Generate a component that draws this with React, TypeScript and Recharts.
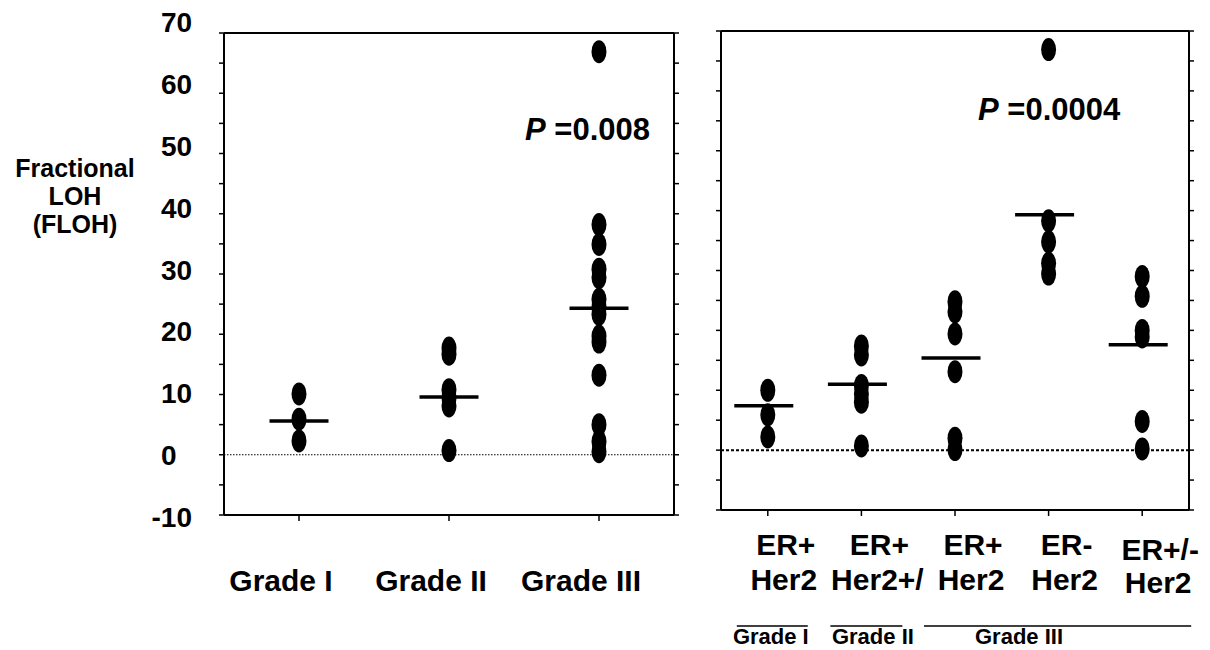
import React from 'react';
import { ScatterChart, Scatter, XAxis, YAxis, ReferenceLine } from 'recharts';

const FONT = '"Liberation Sans", Arial, Helvetica, sans-serif';

// ---------- Left panel: tumour grade ----------
const gradeCategories = ['Grade I', 'Grade II', 'Grade III'];
const gradeIValues = [10.1, 5.9, 2.3];
const gradeIIValues = [17.7, 16.7, 10.8, 9.4, 8.1, 0.7];
const gradeIIIValues = [66.9, 38.2, 34.9, 30.8, 29.4, 25.8, 24.5, 23.3, 19.7, 18.7, 13.2, 5.0, 2.2, 0.5];
const gradeMeans = [5.6, 9.6, 24.3];
const gradePValue = '=0.008';

// ---------- Right panel: ER / Her2 subtypes ----------
const subtypeLine1 = ['ER+', 'ER+', 'ER+', 'ER-', 'ER+/-'];
const subtypeLine2 = ['Her2', 'Her2+/', 'Her2', 'Her2', 'Her2'];
const erPosHer2G1 = [10.0, 5.9, 2.2];
const erPosHer2G2 = [17.4, 15.9, 10.8, 9.4, 8.0, 0.7];
const erPosHer2G3 = [24.8, 23.1, 19.4, 13.1, 2.0, 0.1];
const erNegHer2G3 = [66.9, 38.3, 34.8, 31.2, 29.4];
const erMixHer2G3 = [29.0, 25.7, 20.0, 18.9, 4.8, 0.2];
const subtypeMeans = [7.4, 11.0, 15.4, 39.3, 17.6];
const subtypePValue = '=0.0004';
const groupLabels = ['Grade I', 'Grade II', 'Grade III'];
const groupStart = [0, 1, 2];
const groupSpan = [1, 1, 3];

const yTicks = [-10, -5, 0, 5, 10, 15, 20, 25, 30, 35, 40, 45, 50, 55, 60, 65, 70];
const yTitle = ['Fractional', 'LOH', '(FLOH)'];

const gradeSeries = [gradeIValues, gradeIIValues, gradeIIIValues];
const subtypeSeries = [erPosHer2G1, erPosHer2G2, erPosHer2G3, erNegHer2G3, erMixHer2G3];

const toPoints = (vals: number[], i: number) => vals.map((v) => ({ x: i, y: v }));
const meanPoints = (vals: number[]) => vals.map((v, i) => ({ x: i, y: v }));

const RIGHT_BAND = 468 / 5;

const Dot = (props: any) => {
  const { cx, cy } = props;
  if (cx == null || cy == null) return <g />;
  return <ellipse cx={cx} cy={cy} rx={7.5} ry={11.5} fill="#000" />;
};

const makeMeanBar = (shift: number) => (props: any) => {
  const { cx, cy } = props;
  if (cx == null || cy == null) return <g />;
  return <line x1={cx + shift - 29.5} x2={cx + shift + 29.5} y1={cy} y2={cy} stroke="#000" strokeWidth={3.5} />;
};
const MeanBarLeft = makeMeanBar(0);
const MeanBarRight = makeMeanBar(-4);

const EmptyTick = () => <g />;

const YTick = (props: any) => {
  const { x, y, payload } = props;
  const v = payload.value;
  if (v % 10 !== 0) return <g />;
  const neg = v < 0;
  const spread = 2 - (v + 10) * 0.16;
  const by = y + spread + 10;
  return (
    <text
      x={neg ? x - 27 : x - 58}
      y={by}
      textAnchor={neg ? 'end' : 'start'}
      fontFamily={FONT}
      fontWeight="bold"
      fontSize={28}
      fill="#000"
    >
      {v}
    </text>
  );
};

const GradeTick = (props: any) => {
  const { x, y, payload } = props;
  const i = payload.value;
  return (
    <text x={x - 18} y={y + 70} textAnchor="middle" fontFamily={FONT} fontWeight="bold" fontSize={30} fill="#000">
      {gradeCategories[i]}
    </text>
  );
};

const SubtypeTick = (props: any) => {
  const { x, y, payload } = props;
  const i = payload.value;
  const last = i === subtypeLine1.length - 1;
  const g = groupStart.indexOf(i);
  const extra = [40, 41, 49];
  const labelDx = [3, 11.5, 64];
  return (
    <g>
      <text x={x + 18} y={y + 39 + (last ? 5 : 0)} textAnchor="middle" fontFamily={FONT} fontWeight="bold" fontSize={30} fill="#000">
        {subtypeLine1[i]}
      </text>
      <text x={x + 16} y={y + 74 + (last ? 3 : 0)} textAnchor="middle" fontFamily={FONT} fontWeight="bold" fontSize={30} fill="#000">
        {subtypeLine2[i]}
      </text>
      {g >= 0 && (
        <g>
          <line
            x1={x - 31}
            x2={x + (groupSpan[g] - 1) * RIGHT_BAND + extra[g]}
            y1={y + 110}
            y2={y + 110}
            stroke="#000"
            strokeWidth={1.5}
          />
          <text x={x + labelDx[g]} y={y + 128} textAnchor="middle" fontFamily={FONT} fontWeight="bold" fontSize={22} fill="#000">
            {groupLabels[g]}
          </text>
        </g>
      )}
    </g>
  );
};

const axisLine = { stroke: '#000', strokeWidth: 2 };
const tickLine = { stroke: '#000', strokeWidth: 1.5 };

export default function App() {
  return (
    <div style={{ position: 'absolute', left: 0, top: 0, width: 1210, height: 650, background: '#fff' }}>
      <div style={{ position: 'absolute', left: 0, top: 0 }}>
        <ScatterChart width={700} height={650} margin={{ top: 28, right: 16, bottom: 35, left: 164 }}>
          <XAxis
            type="number"
            dataKey="x"
            domain={[-0.5, 2.5]}
            ticks={[0, 1, 2]}
            interval={0}
            allowDataOverflow
            height={100}
            tickSize={6}
            tickMargin={0}
            axisLine={axisLine}
            tickLine={tickLine}
            tick={<GradeTick />}
          />
          <XAxis
            xAxisId="top"
            orientation="top"
            type="number"
            domain={[-0.5, 2.5]}
            ticks={[0, 1, 2]}
            interval={0}
            allowDataOverflow
            height={5}
            tickSize={5}
            axisLine={axisLine}
            tickLine={tickLine}
            tick={<EmptyTick />}
          />
          <YAxis
            type="number"
            dataKey="y"
            domain={[-10, 70]}
            ticks={yTicks}
            interval={0}
            allowDataOverflow
            width={60}
            tickSize={5}
            tickMargin={0}
            axisLine={axisLine}
            tickLine={tickLine}
            tick={<YTick />}
          />
          <YAxis
            yAxisId="r"
            orientation="right"
            type="number"
            domain={[-10, 70]}
            ticks={yTicks}
            interval={0}
            allowDataOverflow
            width={10}
            tickSize={5}
            axisLine={axisLine}
            tickLine={tickLine}
            tick={<EmptyTick />}
          />
          <ReferenceLine y={0} stroke="#000" strokeWidth={1.2} strokeDasharray="1.5 1.5" />
          {gradeSeries.map((vals, i) => (
            <Scatter key={i} data={toPoints(vals, i)} shape={Dot} isAnimationActive={false} />
          ))}
          <Scatter data={meanPoints(gradeMeans)} shape={MeanBarLeft} isAnimationActive={false} />
        </ScatterChart>
      </div>
      <div style={{ position: 'absolute', left: 700, top: 0 }}>
        <ScatterChart width={510} height={650} margin={{ top: 26, right: 11, bottom: 0, left: 0 }}>
          <XAxis
            type="number"
            dataKey="x"
            domain={[-0.5, 4.5]}
            ticks={[0, 1, 2, 3, 4]}
            interval={0}
            allowDataOverflow
            height={140}
            tickSize={6}
            tickMargin={0}
            axisLine={axisLine}
            tickLine={tickLine}
            tick={<SubtypeTick />}
          />
          <XAxis
            xAxisId="top"
            orientation="top"
            type="number"
            domain={[-0.5, 4.5]}
            ticks={[0, 1, 2, 3, 4]}
            interval={0}
            allowDataOverflow
            height={5}
            tickSize={5}
            axisLine={axisLine}
            tickLine={tickLine}
            tick={<EmptyTick />}
          />
          <YAxis
            type="number"
            dataKey="y"
            domain={[-10, 70]}
            ticks={yTicks}
            interval={0}
            allowDataOverflow
            width={21}
            tickSize={5}
            axisLine={axisLine}
            tickLine={tickLine}
            tick={<EmptyTick />}
          />
          <YAxis
            yAxisId="r"
            orientation="right"
            type="number"
            domain={[-10, 70]}
            ticks={yTicks}
            interval={0}
            allowDataOverflow
            width={10}
            tickSize={5}
            axisLine={axisLine}
            tickLine={tickLine}
            tick={<EmptyTick />}
          />
          <ReferenceLine y={0} stroke="#000" strokeWidth={2} strokeDasharray="3 2" />
          {subtypeSeries.map((vals, i) => (
            <Scatter key={i} data={toPoints(vals, i)} shape={Dot} isAnimationActive={false} />
          ))}
          <Scatter data={meanPoints(subtypeMeans)} shape={MeanBarRight} isAnimationActive={false} />
        </ScatterChart>
      </div>
      <svg
        width={1210}
        height={650}
        style={{ position: 'absolute', left: 0, top: 0, pointerEvents: 'none' }}
      >
        {yTitle.map((t, i) => (
          <text key={t} x={75} y={177 + i * 28} textAnchor="middle" fontFamily={FONT} fontWeight="bold" fontSize={25} fill="#000">
            {t}
          </text>
        ))}
        <text x={525} y={140} fontFamily={FONT} fontWeight="bold" fontSize={31} fill="#000">
          <tspan fontStyle="italic">P</tspan> {gradePValue}
        </text>
        <text x={978} y={120} fontFamily={FONT} fontWeight="bold" fontSize={31} fill="#000">
          <tspan fontStyle="italic">P</tspan> {subtypePValue}
        </text>
      </svg>
    </div>
  );
}
